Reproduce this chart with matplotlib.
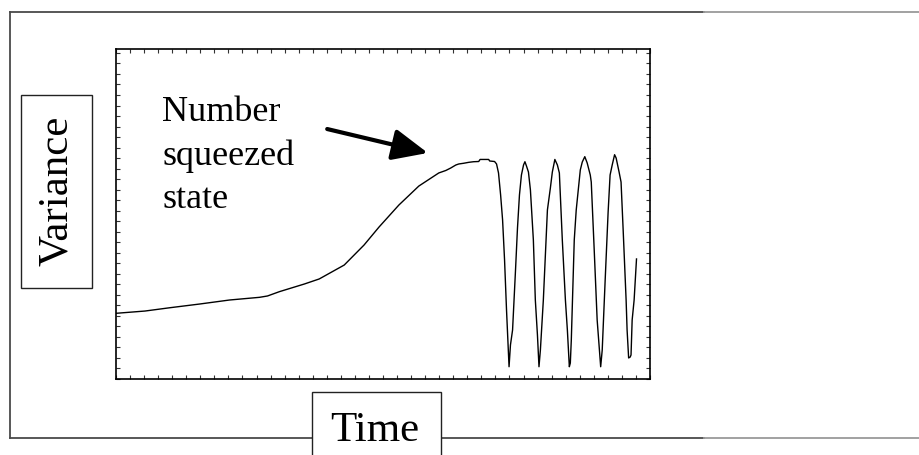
import matplotlib
matplotlib.use("Agg")
import matplotlib.pyplot as plt
from matplotlib.lines import Line2D
from matplotlib.patches import Rectangle
from matplotlib.ticker import MultipleLocator

plt.rcParams["font.family"] = ["Liberation Serif", "DejaVu Serif"]

# ── data (arbitrary units) ──────────────────────────────────────────────────
time = [
    0.00, 2.06, 3.83, 5.95, 8.08, 10.21, 10.78, 11.63, 13.40, 14.46,
    16.24, 17.65, 18.72, 20.13, 21.55, 22.97, 23.47, 23.82, 24.18, 24.39,
    24.74, 25.10, 25.45, 25.81, 25.91, 26.52, 26.59, 26.94, 27.08, 27.22,
    27.37, 27.51, 27.65, 27.79, 27.97, 28.07, 28.22, 28.43, 28.57, 28.71,
    28.85, 29.00, 29.10, 29.21, 29.35, 29.49, 29.70, 29.84, 29.99, 30.10,
    30.20, 30.41, 30.70, 30.91, 31.05, 31.23, 31.41, 31.55, 31.76, 31.98,
    32.12, 32.26, 32.33, 32.40, 32.61, 32.75, 33.04, 33.18, 33.36, 33.53,
    33.75, 33.82, 34.03, 34.24, 34.49, 34.60, 34.81, 35.02, 35.16, 35.31,
    35.48, 35.59, 35.80, 35.94, 36.09, 36.30, 36.37, 36.48, 36.59, 36.65,
    36.73, 36.87, 37.04,
]
variance = [
    6.37, 6.59, 6.91, 7.27, 7.66, 7.92, 8.05, 8.47, 9.21, 9.70,
    11.05, 12.99, 14.74, 16.87, 18.71, 19.98, 20.22, 20.46, 20.75, 20.85,
    20.92, 21.01, 21.07, 21.09, 21.29, 21.29, 21.14, 21.09, 20.85, 19.98,
    17.84, 15.42, 11.54, 6.69, 1.19, 3.30, 4.75, 10.57, 14.64, 17.84,
    19.78, 20.75, 21.07, 20.65, 20.07, 18.33, 13.48, 7.66, 4.27, 1.19,
    2.81, 7.66, 16.39, 18.52, 20.07, 21.29, 20.75, 19.98, 13.48, 7.66,
    4.75, 1.19, 1.55, 3.78, 13.48, 16.39, 20.27, 21.04, 21.56, 20.95,
    19.78, 19.10, 12.51, 5.72, 1.19, 2.81, 9.60, 16.19, 19.78, 20.75,
    21.75, 21.43, 20.07, 19.10, 14.45, 7.66, 4.75, 2.04, 2.13, 2.33,
    5.72, 7.66, 11.64,
]
annotation = "Number\nsqueezed\nstate"
arrow_tail = (15.03, 24.24)
arrow_tip = (22.19, 21.92)
xlabel = "Time"
ylabel = "Variance"

W, H = 920, 455


def fx(px):
    return px / W


def fy(py):
    return 1 - py / H


fig = plt.figure(figsize=(W / 100, H / 100), dpi=100)
ax = fig.add_axes([fx(116), fy(379), (650 - 116) / W, (379 - 49) / H])

ax.plot(time, variance, color="black", lw=1.0)
ax.set_xlim(0, 38)
ax.set_ylim(0, 32)
ax.xaxis.set_major_locator(MultipleLocator(1))
ax.yaxis.set_major_locator(MultipleLocator(1.02))
ax.tick_params(direction="in", length=3, width=0.8, color="#333333",
               top=True, right=True, labelbottom=False, labelleft=False)
for s in ax.spines.values():
    s.set_linewidth(1.2)

ax.text(fx(162), fy(96), annotation, transform=fig.transFigure,
        fontsize=26, ha="left", va="top", linespacing=1.4)
ax.annotate("", xy=arrow_tip, xytext=arrow_tail,
            arrowprops=dict(arrowstyle="-|>,head_length=0.9,head_width=0.4",
                            mutation_scale=24, lw=3, color="black",
                            shrinkA=0, shrinkB=0))

# ── outer frame (slide-style border) ────────────────────────────────────────
dark, light = "#4a4a4a", "#9a9a9a"
for xs, ys, c in [
    ([10, 704], [12, 12], dark), ([704, 920], [12, 12], light),
    ([10, 10], [12, 438], dark),
    ([10, 704], [438, 438], dark), ([704, 920], [438, 438], light),
]:
    fig.add_artist(Line2D([fx(x) for x in xs], [fy(y) for y in ys],
                          transform=fig.transFigure, color=c, lw=1.3))

# label boxes
fig.add_artist(Rectangle((fx(21), fy(288)), (92 - 21) / W, (288 - 95) / H,
                         transform=fig.transFigure, facecolor="white",
                         edgecolor="#222222", lw=1.0, zorder=3))
fig.text(fx(57), fy(191), ylabel, rotation=90, fontsize=31,
         ha="center", va="center", zorder=4)

fig.add_artist(Rectangle((fx(312), fy(470)), (441 - 312) / W, (470 - 392) / H,
                         transform=fig.transFigure, facecolor="white",
                         edgecolor="#222222", lw=1.0, zorder=3))
fig.text(fx(375), fy(431), xlabel, fontsize=31,
         ha="center", va="center", zorder=4)

fig.savefig("out.png", dpi=100)
